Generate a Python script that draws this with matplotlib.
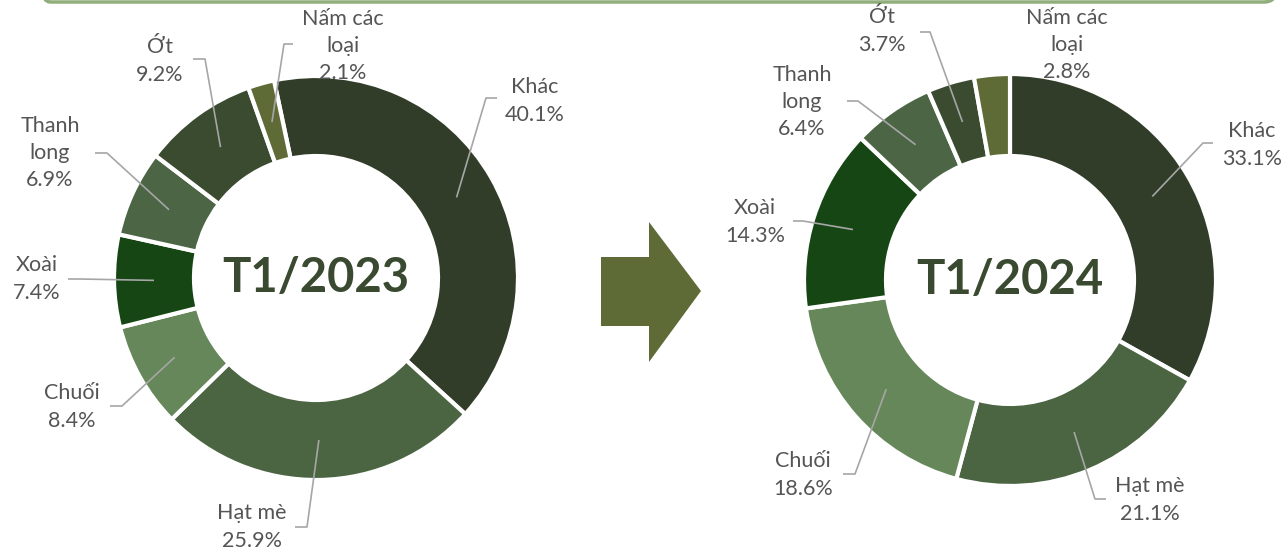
import numpy as np
import matplotlib
matplotlib.use("Agg")
import matplotlib.pyplot as plt
from matplotlib.patches import Polygon, FancyBboxPatch

# ---------------- data ----------------
categories = ["Khác", "Hạt mè", "Chuối", "Xoài", "Thanh long", "Ớt", "Nấm các loại"]
label_text = ["Khác", "Hạt mè", "Chuối", "Xoài", "Thanh\nlong", "Ớt", "Nấm các\nloại"]
values_2023 = [40.1, 25.9, 8.4, 7.4, 6.9, 9.2, 2.1]
values_2024 = [33.1, 21.1, 18.6, 14.3, 6.4, 3.7, 2.8]
titles = ["T1/2023", "T1/2024"]

# ---------------- styles / layout ----------------
colors = ["#323d29", "#4b6542", "#668759", "#164614", "#4c6544", "#3a4b30", "#5f6b37"]
W, H = 1286, 554
FONT = ["Lato", "DejaVu Sans"]
TXT = "#555555"
LEAD = "#a6a6a6"

def P(y):
    return H - y

# label layout in pixel coordinates (x, y from top): text centre, elbow, end
layout_2023 = [
    ((535, 101), (486, 98), (497, 98)),
    ((252, 527), (307, 527), (295, 527)),
    ((72, 407), (122, 406), (110, 406)),
    ((37, 279), (80, 279), (68, 279)),
    ((50, 153), (107, 153), (95, 153)),
    ((160, 61), (205, 59), (193, 59)),
    ((343, 46), (284, 44), (293, 44)),
]
layout_2024 = [
    ((1252, 145), (1203, 143), (1213, 143)),
    ((1150, 500), (1095, 499), (1106, 499)),
    ((803, 475), (855, 474), (843, 474)),
    ((755, 222), (803, 221), (793, 221)),
    ((802, 102), (858, 101), (847, 101)),
    ((882, 31), (930, 32), (920, 32)),
    ((1067, 45), None, None),
]

charts = [
    dict(values=values_2023, center=(316, 278), r=202, w=80, start=102, layout=layout_2023, title=titles[0]),
    dict(values=values_2024, center=(1010, 280), r=206, w=82, start=90, layout=layout_2024, title=titles[1]),
]

fig = plt.figure(figsize=(W / 100, H / 100), dpi=100)
ax = fig.add_axes([0, 0, 1, 1])

for ch in charts:
    cx, cy = ch["center"]
    ax.pie(ch["values"], colors=colors, startangle=ch["start"], counterclock=False,
           radius=ch["r"], center=(cx, P(cy)), frame=True,
           wedgeprops=dict(width=ch["w"], edgecolor="white", linewidth=3))
    vals = np.array(ch["values"], dtype=float)
    cum = np.cumsum(vals) - vals / 2
    mids = np.deg2rad(ch["start"] - cum / vals.sum() * 360.0)
    rmid = ch["r"] - ch["w"] / 2
    for i, (txt, v) in enumerate(zip(label_text, vals)):
        tpos, elbow, end = ch["layout"][i]
        ax.text(tpos[0], P(tpos[1]), f"{txt}\n{v:.1f}%", ha="center", va="center",
                fontsize=15.5, color=TXT, family=FONT, linespacing=1.45)
        if elbow is not None:
            axp = cx + rmid * np.cos(mids[i])
            ayp = P(cy) + rmid * np.sin(mids[i])
            ax.plot([axp, elbow[0], end[0]], [ayp, P(elbow[1]), P(end[1])],
                    color=LEAD, lw=1.2, solid_capstyle="butt", zorder=5)
    ax.text(cx, P(cy), ch["title"], ha="center", va="center", fontsize=34,
            fontweight="bold", color="#3a4a30", family=FONT)

# arrow between charts
arrow = [(601, 257), (649, 257), (649, 222), (701, 291), (649, 362), (649, 326), (601, 326)]
ax.add_patch(Polygon([(x, P(y)) for x, y in arrow], closed=True, facecolor="#5f6b37",
                     edgecolor="none"))

# bottom edge of a rounded frame at the top
ax.add_patch(FancyBboxPatch((38, P(2)), 1238, 60, boxstyle="round,pad=0,rounding_size=12",
                            facecolor="none", edgecolor="#8fae7a", linewidth=2.5))

ax.set_xlim(0, W)
ax.set_ylim(0, H)
ax.set_aspect("equal", adjustable="box")
ax.axis("off")

fig.savefig("out.png", dpi=100, facecolor="white")
